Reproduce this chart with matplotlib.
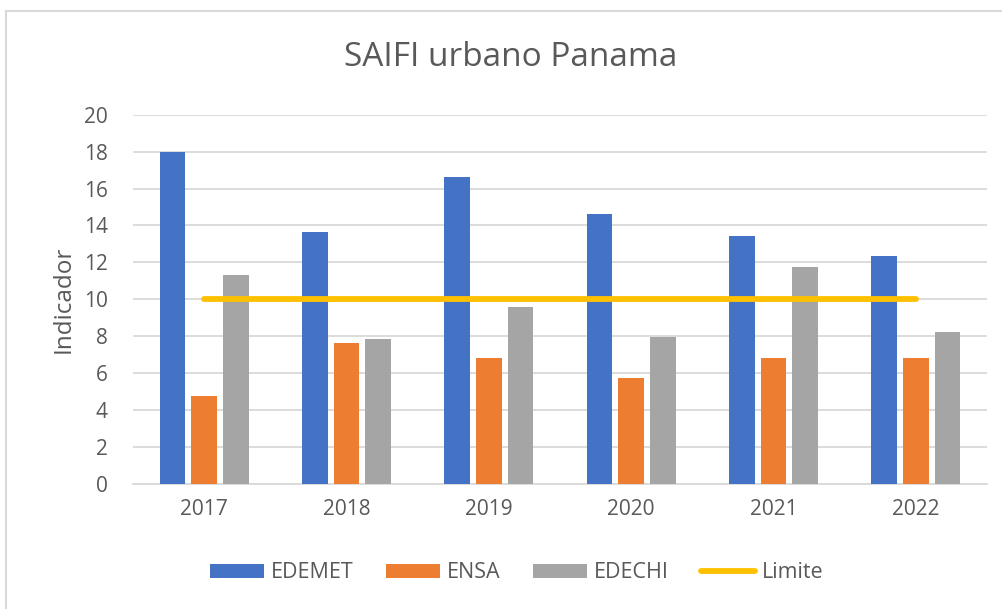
import matplotlib
matplotlib.use("Agg")
import matplotlib.pyplot as plt
import numpy as np
from matplotlib.patches import Rectangle

years = ["2017", "2018", "2019", "2020", "2021", "2022"]
edemet = [18.0, 13.65, 16.65, 14.6, 13.45, 12.35]
ensa = [4.75, 7.65, 6.8, 5.75, 6.8, 6.8]
edechi = [11.3, 7.85, 9.6, 7.95, 11.75, 8.25]
limite = [10, 10, 10, 10, 10, 10]

plt.rcParams['font.family'] = ['Open Sans', 'DejaVu Sans']
TXT = '#595959'

fig = plt.figure(figsize=(10.03, 6.09), dpi=100)
ax = fig.add_axes([133/1003, 1-484/609, (987-133)/1003, (484-114.7)/609])

x = np.arange(len(years))
w = 0.18
off = 0.222
ax.bar(x - off, edemet, w, color='#4472C4', label='EDEMET', zorder=3)
ax.bar(x, ensa, w, color='#ED7D31', label='ENSA', zorder=3)
ax.bar(x + off, edechi, w, color='#A5A5A5', label='EDECHI', zorder=3)
ax.plot(x, limite, color='#FFC000', lw=4.2, solid_capstyle='round', label='Limite', zorder=4)

ax.set_xlim(-0.5, len(years) - 0.5)
ax.set_ylim(0, 20)
ax.set_yticks(range(0, 21, 2))
ax.set_xticks(x)
ax.set_xticklabels(years)
ax.yaxis.grid(True, color='#D9D9D9', lw=1.3, zorder=0)
ax.set_axisbelow(True)
for s in ['top', 'right', 'left']:
    ax.spines[s].set_visible(False)
ax.spines['bottom'].set_color('#D9D9D9')
ax.spines['bottom'].set_linewidth(1.3)
ax.tick_params(axis='both', length=0, labelsize=15, labelcolor=TXT)
ax.tick_params(axis='y', pad=18)
ax.tick_params(axis='x', pad=11)
ax.set_ylabel('Indicador', fontsize=17.5, color=TXT, labelpad=6)

fig.text(511, 609-57, 'SAIFI urbano Panama', transform=None, ha='center', va='center',
         fontsize=24, color=TXT)

h, l = ax.get_legend_handles_labels()
order = [1, 2, 3, 0]
leg = fig.legend([h[i] for i in order], [l[i] for i in order], loc='center',
                 bbox_to_anchor=(517/1003, 1-573/609), ncol=4, frameon=False,
                 fontsize=15.5, handlelength=2.5, handleheight=0.65, columnspacing=1.5,
                 handletextpad=0.33)
for t in leg.get_texts():
    t.set_color(TXT)

fig.patches.append(Rectangle((6/1003, -0.1), 1.1, 1 - 10.5/609 + 0.1, transform=fig.transFigure,
                             fill=False, edgecolor='#D9D9D9', lw=1.5))

fig.savefig('out.png', dpi=100)
